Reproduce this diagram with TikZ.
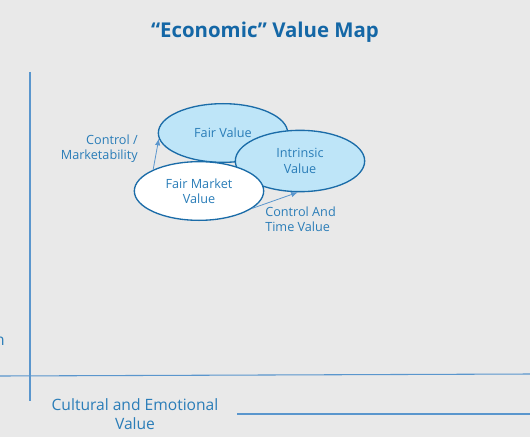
\documentclass[tikz,border=0pt]{standalone}
\usepackage{fontspec}
\setmainfont{Open Sans}
\usetikzlibrary{arrows.meta,shapes.geometric}
\definecolor{mybg}{RGB}{233,233,233}
\definecolor{mytitle}{RGB}{20,103,166}
\definecolor{mytext}{RGB}{42,125,184}
\definecolor{myline}{RGB}{27,108,168}
\definecolor{myaxis}{RGB}{90,150,205}
\definecolor{myfill}{RGB}{190,229,248}

\tikzset{
  valbox/.style={ellipse, draw=myline, line width=1pt, fill=myfill,
                 minimum width=97pt, minimum height=44pt, inner sep=1pt,
                 align=center, text=mytext, font=\fontsize{9.5}{11.5}\selectfont},
  lbl/.style={text=mytext, font=\fontsize{9.5}{11.5}\selectfont, inner sep=0pt},
  axis/.style={draw=myaxis, line width=0.8pt},
  valshift/.style={draw=myaxis, line width=0.6pt, -{Latex[length=5pt,width=4pt]}}
}

\begin{document}
\begin{tikzpicture}[x=0.75pt, y=-0.75pt]
  \fill[white] (0,0) rectangle (530,442);
  \fill[mybg] (0,0) rectangle (530,437);
  \useasboundingbox (0,0) rectangle (530,442);

  \node[text=mytitle, font=\fontsize{15.3}{18}\selectfont\bfseries] (title)
    at (265,32) {“Economic” Value Map};

  % axes
  \draw[axis] (30,72) -- (30,401);
  \draw[axis] (0,376) -- (530,374);
  \draw[axis] (237,414) -- (530,414);
  \node[lbl, anchor=east, font=\fontsize{11.7}{14}\selectfont] (cutlbl) at (5,341) {n};
  \node[lbl, align=center, font=\fontsize{11.7}{14}\selectfont] (culture)
    at (135,414) {Cultural and Emotional\\Value};

  % value ellipses
  \node[valbox] (fairval) at (223,133) {Fair Value};
  \node[valbox, minimum height=46pt] (intrinsic) at (300,161) {Intrinsic\\Value};
  \node[valbox, fill=white] (fmv) at (199,191) {Fair Market\\Value};

  \draw[valshift] (fmv.155) -- (fairval.185);
  \draw[valshift] (fmv.-18) -- (intrinsic.266);

  \node[lbl, anchor=east, align=right] (ctrl) at (138,149)
    {Control /\\Marketability};
  \node[lbl, anchor=west, align=left] (ctrltime) at (265,219)
    {Control And\\Time Value};
\end{tikzpicture}
\end{document}
